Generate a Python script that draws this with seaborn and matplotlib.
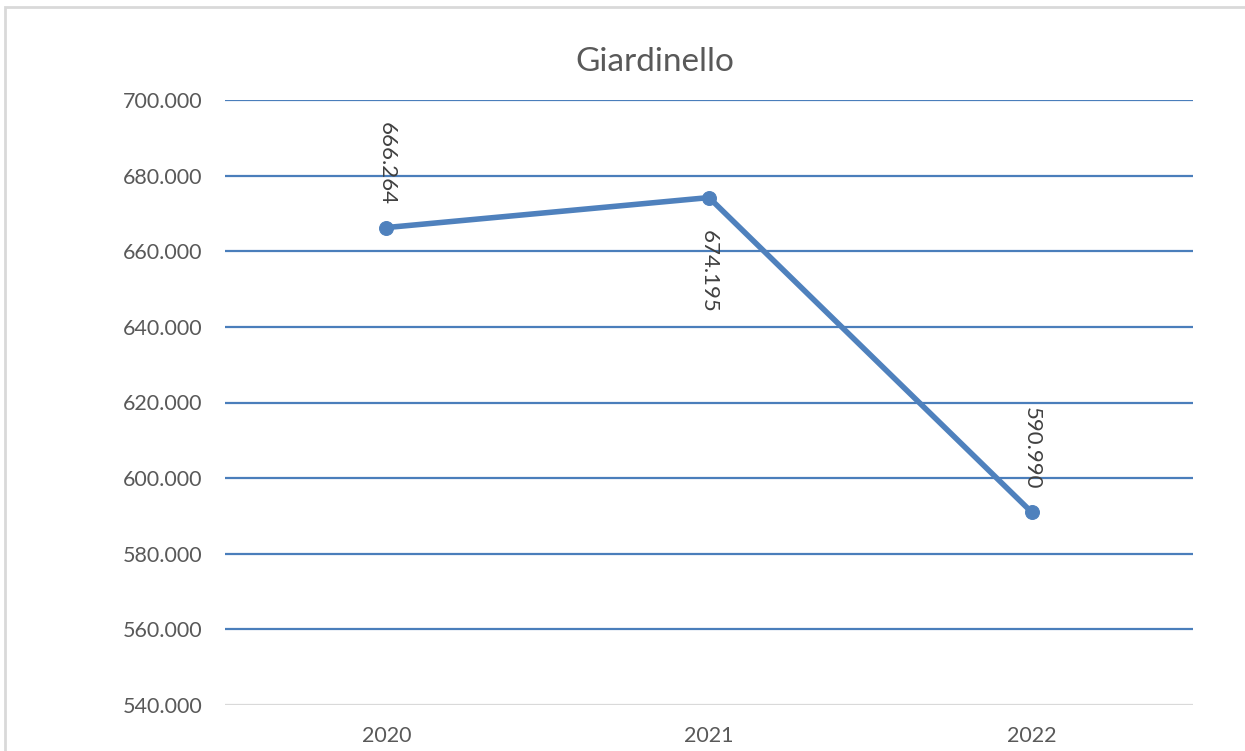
import matplotlib
matplotlib.use('Agg')
import matplotlib.pyplot as plt
import matplotlib.ticker as mticker
from matplotlib.patches import Rectangle
import seaborn as sns
import pandas as pd

# data (Italian thousands separator)
years = ['2020', '2021', '2022']
values = [666264, 674195, 590990]
label_side = ['above', 'below', 'above']
y_ticks = list(range(540000, 700001, 20000))

BLUE = '#4F81BD'
GRID = '#4A7EBB'
TEXT = '#595959'


def it_fmt(v, pos=None):
    return f'{int(round(v)):,}'.replace(',', '.')


sns.set_theme(style='white')
plt.rcParams['font.family'] = ['Lato', 'DejaVu Sans']

df = pd.DataFrame({'Anno': years, 'Valore': values})

fig = plt.figure(figsize=(12.45, 7.51), dpi=100)
ax = fig.add_axes([225 / 1245, 1 - 705 / 751, 968 / 1245, 605 / 751])

# light frame of the chart area
fig.patches.append(Rectangle((5 / 1245, -0.1), 1.1, 1.1 - 7 / 751,
                             transform=fig.transFigure, fill=False,
                             edgecolor='#D9D9D9', linewidth=2))

sns.lineplot(data=df, x='Anno', y='Valore', ax=ax, color=BLUE,
             linewidth=4, marker='o', markersize=10,
             markeredgecolor=BLUE, sort=False)

ax.set_xlim(-0.5, 2.5)
ax.set_ylim(540000, 700000)
ax.set_yticks(y_ticks)
ax.yaxis.set_major_formatter(mticker.FuncFormatter(it_fmt))
for t in y_ticks[1:]:
    ax.axhline(t, color=GRID, linewidth=1.6, zorder=0)
ax.axhline(540000, color='#D9D9D9', linewidth=1.6, zorder=0)

for s in ax.spines.values():
    s.set_visible(False)
ax.tick_params(axis='both', length=0, labelsize=15.5, colors=TEXT)
ax.tick_params(axis='y', pad=16)
ax.tick_params(axis='x', pad=15)
ax.set_xlabel('')
ax.set_ylabel('')

for i, (v, side) in enumerate(zip(values, label_side)):
    off = 16 if side == 'above' else -23
    ax.annotate(it_fmt(v), (i, v), xytext=(0, off),
                textcoords='offset points', rotation=270,
                ha='center', va='bottom' if side == 'above' else 'top',
                fontsize=16, color='#404040')

fig.text(655 / 1245, 1 - 62 / 751, 'Giardinello', ha='center',
         va='center', fontsize=24, color=TEXT)

fig.savefig('out.png', dpi=100)
